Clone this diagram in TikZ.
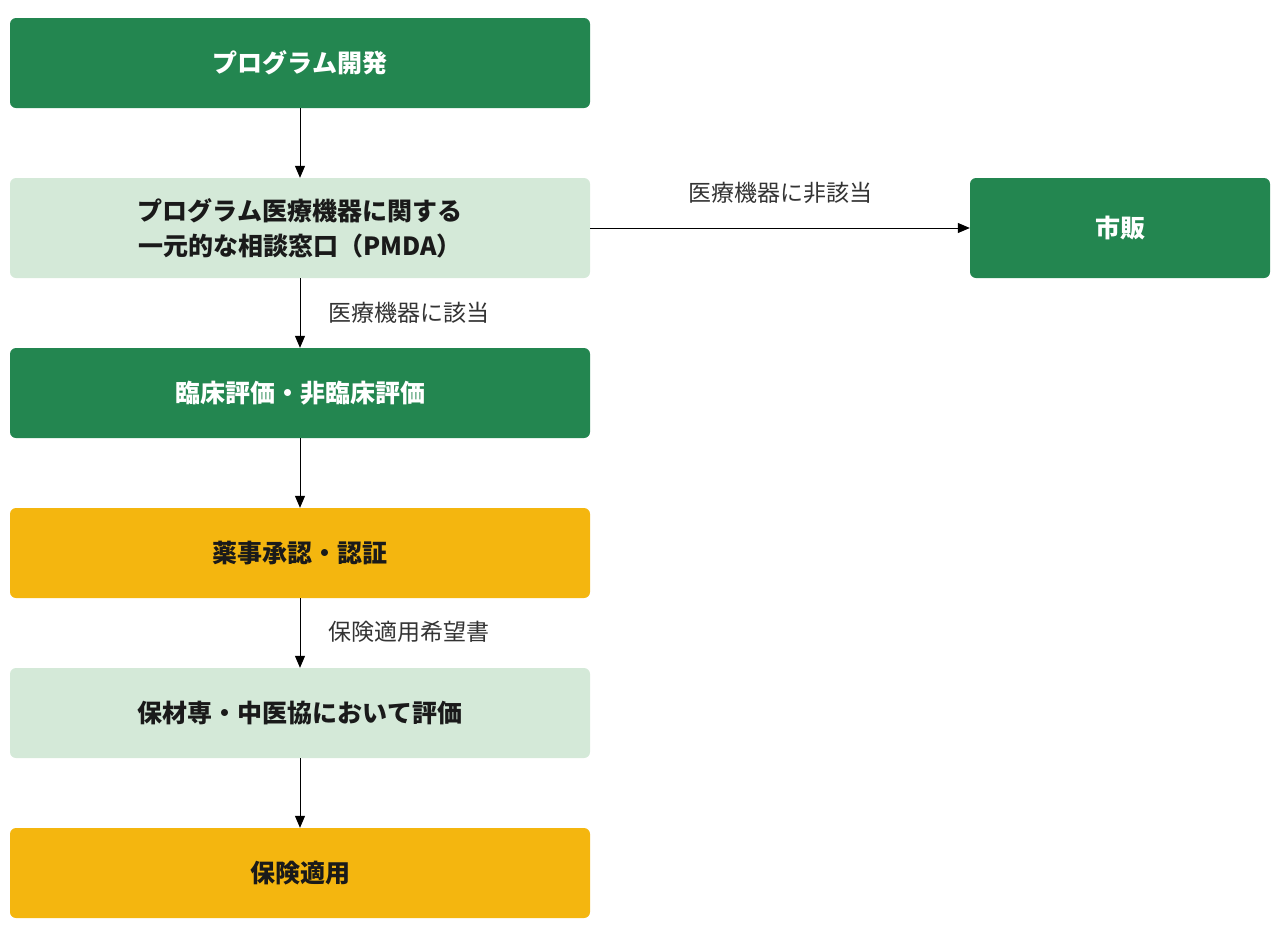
\documentclass[tikz,border=0pt]{standalone}
\usepackage{fontspec}
\setmainfont{Noto Sans CJK JP}
\usetikzlibrary{arrows.meta}
\definecolor{dg}{HTML}{238650}
\definecolor{lg}{HTML}{D4E9D8}
\definecolor{yl}{HTML}{F4B60F}
\definecolor{tx}{HTML}{1A1A1A}
\definecolor{lb}{HTML}{333333}
\tikzset{
 box/.style={rounded corners=6pt, minimum width=580pt, minimum height=90pt, align=center, font=\fontsize{25}{35}\selectfont\bfseries, inner sep=0pt},
 dbox/.style={box, fill=dg, text=white},
 lbox/.style={box, fill=lg, text=tx},
 ybox/.style={box, fill=yl, text=tx},
 arr/.style={-{Triangle[length=12pt,width=10pt]}, line width=1pt, black},
 lab/.style={font=\fontsize{23}{28}\selectfont, text=lb, inner sep=0pt}
}
\begin{document}
\begin{tikzpicture}[x=1pt,y=-1pt]
\useasboundingbox (0,0) rectangle (1280,940);
\node[dbox] (a) at (300,63) {プログラム開発};
\node[lbox, minimum height=100pt] (b) at (300,228) {プログラム医療機器に関する\\一元的な相談窓口（PMDA）};
\node[dbox] (c) at (300,393) {臨床評価・非臨床評価};
\node[ybox] (d) at (300,553) {薬事承認・認証};
\node[lbox] (e) at (300,713) {保材専・中医協において評価};
\node[ybox] (f) at (300,873) {保険適用};
\node[dbox, minimum width=300pt, minimum height=100pt] (g) at (1120,228) {市販};
\draw[arr] (a) -- (b);
\draw[arr] (b) -- (c);
\draw[arr] (c) -- (d);
\draw[arr] (d) -- (e);
\draw[arr] (e) -- (f);
\draw[arr] (b) -- (g);
\node[lab] (l1) at (780,193) {医療機器に非該当};
\node[lab, anchor=west] (l2) at (328,313) {医療機器に該当};
\node[lab, anchor=west] (l3) at (328,632) {保険適用希望書};
\end{tikzpicture}
\end{document}
